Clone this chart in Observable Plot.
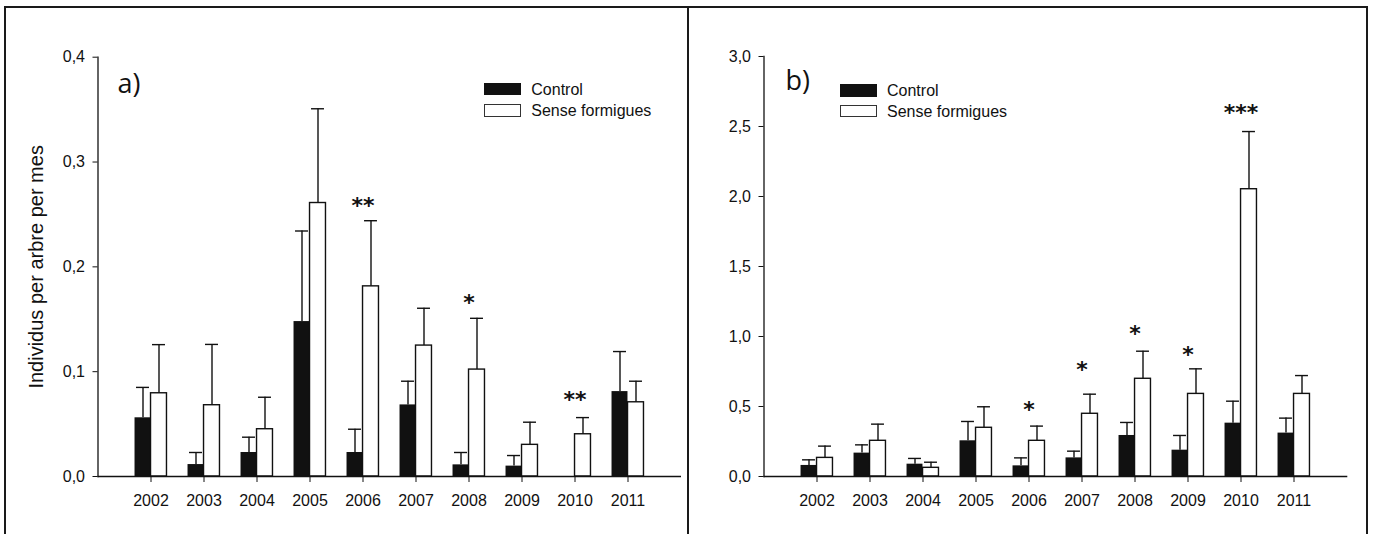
<!DOCTYPE html>
<html>
<head>
<meta charset="utf-8">
<script src="https://cdn.jsdelivr.net/npm/d3@7"></script>
<script src="https://cdn.jsdelivr.net/npm/@observablehq/plot@0.6"></script>
<style>
  html, body { margin: 0; padding: 0; background: #fff; width: 1375px; height: 534px; overflow: hidden; }
  #wrap { position: relative; width: 1375px; height: 534px; font-family: "Liberation Sans", Arial, sans-serif; }
  .panel { position: absolute; top: 0; }
  .box { position: absolute; top: 6px; height: 600px; border: 2px solid #1a1a1a; border-bottom: none; box-sizing: border-box; pointer-events: none; }
  .legend { position: absolute; font-size: 16px; color: #111; line-height: 1; }
  .legend .sw { position: absolute; left: 0; width: 37px; box-sizing: border-box; }
  .legend .lab { position: absolute; white-space: nowrap; transform: translateY(-50%); }
</style>
</head>
<body>
<div id="wrap"></div>
<script>
// ---------- data ----------
const years = [2002, 2003, 2004, 2005, 2006, 2007, 2008, 2009, 2010, 2011];
const seriesNames = ["Control", "Sense formigues"];
const yLabel = "Individus per arbre per mes";

// panel a)
const aControlMean = [0.056, 0.0114, 0.0229, 0.1478, 0.0229, 0.0683, 0.0111, 0.0099, 0, 0.081];
const aControlSE   = [0.029, 0.0115, 0.0146, 0.0864, 0.0222, 0.0226, 0.0118, 0.0101, 0, 0.0382];
const aTreatMean   = [0.0794, 0.068, 0.0451, 0.2609, 0.1814, 0.1249, 0.102, 0.0302, 0.0403, 0.0708];
const aTreatSE     = [0.0464, 0.058, 0.0305, 0.0899, 0.0626, 0.0356, 0.0489, 0.0216, 0.0159, 0.0201];
const aSigYears  = [2006, 2008, 2010];
const aSigLabels = ["**", "*", "**"];
const aSigPos    = [0.2625, 0.170, 0.078];
const aTicks = [0, 0.1, 0.2, 0.3, 0.4];

// panel b)
const bControlMean = [0.079, 0.167, 0.088, 0.255, 0.076, 0.133, 0.293, 0.188, 0.381, 0.31];
const bControlSE   = [0.040, 0.059, 0.041, 0.138, 0.057, 0.048, 0.093, 0.105, 0.157, 0.107];
const bTreatMean   = [0.133, 0.255, 0.062, 0.348, 0.255, 0.448, 0.698, 0.59, 2.052, 0.59];
const bTreatSE     = [0.084, 0.119, 0.040, 0.150, 0.105, 0.140, 0.197, 0.179, 0.412, 0.131];
const bSigYears  = [2006, 2007, 2008, 2009, 2010];
const bSigLabels = ["*", "*", "*", "*", "***"];
const bSigPos    = [0.514, 0.798, 1.055, 0.905, 2.634];
const bTicks = [0, 0.5, 1.0, 1.5, 2.0, 2.5, 3.0];

// ---------- helpers ----------
const rows = (means, ses) => years.map((year, i) => ({year, mean: means[i], se: ses[i], top: means[i] + ses[i]}));
const sigRows = (ys, labels, pos) => ys.map((year, i) => ({year, label: labels[i], pos: pos[i]}));
const fmt = d => d.toFixed(1).replace(".", ",");
const ink = "#111";

function makePanel({control, treatment, sig, ticks, yMax, width, height, marginLeft, marginRight, marginTop, letter, letterDx, letterDy, showYLabel}) {
  const step = (width - marginLeft - marginRight) / (years.length + 1);
  const half = step / 2;
  const barW = 16, capHalf = 6.5, off = 8;
  const ctl = control.filter(d => d.se > 0);
  const marks = [
    Plot.barY(control, {x: "year", y: "mean", fill: ink, insetLeft: half - barW, insetRight: half}),
    Plot.barY(treatment, {x: "year", y: "mean", fill: "white", stroke: ink, strokeWidth: 1.4, insetLeft: half, insetRight: half - barW}),
    Plot.ruleX(ctl, {x: "year", y1: "mean", y2: "top", dx: -off, stroke: ink, strokeWidth: 1.4}),
    Plot.tickY(ctl, {x: "year", y: "top", insetLeft: half - off - capHalf, insetRight: half + off - capHalf, stroke: ink, strokeWidth: 1.4}),
    Plot.ruleX(treatment, {x: "year", y1: "mean", y2: "top", dx: off, stroke: ink, strokeWidth: 1.4}),
    Plot.tickY(treatment, {x: "year", y: "top", insetLeft: half + off - capHalf, insetRight: half - off - capHalf, stroke: ink, strokeWidth: 1.4}),
    Plot.ruleY([0], {stroke: ink, strokeWidth: 1.3}),
    Plot.frame({anchor: "left", stroke: ink, strokeWidth: 1.3}),
    Plot.axisY({ticks, tickFormat: fmt, tickSize: 5, tickPadding: 8, fontSize: 16, label: null, stroke: ink}),
    Plot.axisX({tickSize: 6, tickPadding: 12, fontSize: 16, label: null, tickFormat: d => String(d), stroke: ink}),
    Plot.text(sig, {x: "year", y: "pos", text: "label", fontFamily: "DejaVu Sans", fontWeight: "bold", fontSize: 22, dy: 5, fill: ink}),
    Plot.text([letter], {frameAnchor: "top-left", dx: letterDx, dy: letterDy, textAnchor: "start", lineAnchor: "middle", fontFamily: "Open Sans", fontSize: 27, fill: ink})
  ];
  if (showYLabel) {
    marks.push(Plot.text([yLabel], {frameAnchor: "left", dx: -61, rotate: -90, textAnchor: "middle", lineAnchor: "middle", fontSize: 20, fill: ink}));
  }
  return Plot.plot({
    width, height, marginLeft, marginRight, marginTop, marginBottom: height - 476,
    style: {fontFamily: "'Liberation Sans', Arial, sans-serif", fontSize: "16px", color: ink, background: "white"},
    x: {type: "band", domain: years, paddingInner: 0, paddingOuter: 0.5, label: null},
    y: {domain: [0, yMax], label: null},
    marks
  });
}

function makeLegend(left, top, gap) {
  const lg = document.createElement("div");
  lg.className = "legend";
  lg.style.left = left + "px";
  lg.style.top = top + "px";
  seriesNames.forEach((name, i) => {
    const sw = document.createElement("div");
    sw.className = "sw";
    sw.style.top = (i * gap) + "px";
    sw.style.height = "12.5px";
    if (i === 0) { sw.style.background = ink; }
    else { sw.style.background = "#fff"; sw.style.border = "1.3px solid #333"; }
    lg.appendChild(sw);
    const lab = document.createElement("div");
    lab.className = "lab";
    lab.style.left = "47px";
    lab.style.top = (i * gap + 7) + "px";
    lab.textContent = name;
    lg.appendChild(lab);
  });
  return lg;
}

const wrap = document.getElementById("wrap");

const pa = makePanel({
  control: rows(aControlMean, aControlSE), treatment: rows(aTreatMean, aTreatSE),
  sig: sigRows(aSigYears, aSigLabels, aSigPos), ticks: aTicks, yMax: 0.4,
  width: 688, height: 534, marginLeft: 97.5, marginRight: 7, marginTop: 56.7,
  letter: "a)", letterDx: 19.5, letterDy: 27, showYLabel: true
});
pa.classList.add("panel"); pa.style.left = "0px";
wrap.appendChild(pa);

const pb = makePanel({
  control: rows(bControlMean, bControlSE), treatment: rows(bTreatMean, bTreatSE),
  sig: sigRows(bSigYears, bSigLabels, bSigPos), ticks: bTicks, yMax: 3.0,
  width: 687, height: 534, marginLeft: 75.5, marginRight: 27.7, marginTop: 56,
  letter: "b)", letterDx: 21.5, letterDy: 25, showYLabel: false
});
pb.classList.add("panel"); pb.style.left = "688px";
wrap.appendChild(pb);

wrap.appendChild(makeLegend(484.3, 82.7, 21.6));
wrap.appendChild(makeLegend(840, 84.3, 20.7));

const boxA = document.createElement("div");
boxA.className = "box"; boxA.style.left = "4px"; boxA.style.width = "685px";
wrap.appendChild(boxA);
const boxB = document.createElement("div");
boxB.className = "box"; boxB.style.left = "687px"; boxB.style.width = "681px";
wrap.appendChild(boxB);
</script>
</body>
</html>
